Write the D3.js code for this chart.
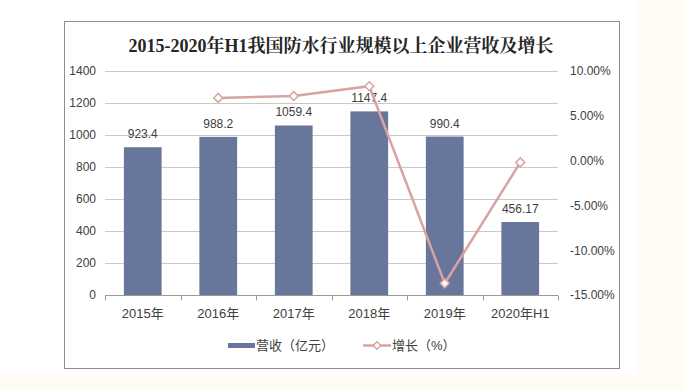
<!DOCTYPE html>
<html><head><meta charset="utf-8">
<script src="https://cdn.jsdelivr.net/npm/d3@7"></script>
<style>body{margin:0;background:#fff}svg{display:block}</style>
</head><body>
<svg id="c" width="685" height="390"></svg>
<script>
const categories = ["2015年","2016年","2017年","2018年","2019年","2020年H1"];
const revenue = [923.4, 988.2, 1059.4, 1147.4, 990.4, 456.17];
const revenueLabels = ["923.4","988.2","1059.4","1147.4","990.4","456.17"];
const growth = [null, 7.0, 7.2, 8.3, -13.7, -0.2];
const leftTicks = [0,200,400,600,800,1000,1200,1400];
const rightTicks = [-15,-10,-5,0,5,10];
const title = "2015-2020年H1我国防水行业规模以上企业营收及增长";
const legendNames = ["营收（亿元）","增长（%）"];

const svg = d3.select("#c");
const font = "'Liberation Sans', Arial, 'Noto Sans CJK SC', sans-serif";
// background regions
svg.append("rect").attr("x",0).attr("y",0).attr("width",685).attr("height",390).attr("fill","#fffcf6");
svg.append("rect").attr("x",0).attr("y",0).attr("width",637).attr("height",374).attr("fill","#ffffff");
svg.append("rect").attr("x",64.5).attr("y",21.5).attr("width",555).attr("height",347)
  .attr("fill","#fff").attr("stroke","#8c8c8c").attr("stroke-width",1);

svg.append("text").attr("x",341).attr("y",52).attr("text-anchor","middle")
  .attr("font-family","'Liberation Serif','Noto Serif CJK SC','Noto Sans CJK SC',serif")
  .attr("font-weight","bold").attr("font-size",18).attr("fill","#262626").text(title);

const x = d3.scaleBand().domain(categories).range([105,558]).paddingInner(0.5).paddingOuter(0.25);
const xb = d3.scaleBand().domain(categories).range([105,558]);
const yL = d3.scaleLinear().domain([0,1400]).range([295,71]);
const yR = d3.scaleLinear().domain([-15,10]).range([295,71]);

// grid
svg.append("g").selectAll("line").data(leftTicks.filter(d=>d>0)).join("line")
  .attr("x1",105).attr("x2",558).attr("y1",d=>Math.round(yL(d))+0.5).attr("y2",d=>Math.round(yL(d))+0.5)
  .attr("stroke","#c9c9c9").attr("stroke-width",1);

// left axis
const gl = svg.append("g").attr("transform","translate(105,0)")
  .call(d3.axisLeft(yL).tickValues(leftTicks).tickSize(0).tickPadding(9).tickFormat(d3.format("d")));
gl.select(".domain").remove();
gl.selectAll("text").attr("font-family",font).attr("font-size",12).attr("fill","#404040");

// right axis
const gr = svg.append("g").attr("transform","translate(558,0)")
  .call(d3.axisRight(yR).tickValues(rightTicks).tickSize(0).tickPadding(12).tickFormat(d=>d.toFixed(2)+"%"));
gr.select(".domain").remove();
gr.selectAll("text").attr("font-family",font).attr("font-size",12).attr("fill","#404040");

// bars
svg.append("g").selectAll("rect").data(revenue).join("rect")
  .attr("x",(d,i)=>x(categories[i])).attr("width",x.bandwidth())
  .attr("y",d=>yL(d)).attr("height",d=>yL(0)-yL(d)).attr("fill","#68769b");

// x axis
const gx = svg.append("g").attr("transform","translate(0,295.5)");
gx.append("line").attr("x1",105).attr("x2",558).attr("stroke","#9a9a9a");
gx.selectAll("line.t").data(d3.range(categories.length+1)).join("line").attr("class","t")
  .attr("x1",i=>Math.round(105+i*xb.step())+0.5).attr("x2",i=>Math.round(105+i*xb.step())+0.5)
  .attr("y1",0).attr("y2",5).attr("stroke","#9a9a9a");
gx.selectAll("text").data(categories).join("text")
  .attr("x",d=>xb(d)+xb.bandwidth()/2).attr("y",22).attr("text-anchor","middle")
  .attr("font-family",font).attr("font-size",13).attr("fill","#404040").text(d=>d);

// data labels
svg.append("g").selectAll("text").data(revenue).join("text")
  .attr("x",(d,i)=>x(categories[i])+x.bandwidth()/2).attr("y",d=>yL(d)-9)
  .attr("text-anchor","middle").attr("font-family",font).attr("font-size",12).attr("fill","#404040")
  .text((d,i)=>revenueLabels[i]);

// growth line
const pts = growth.map((g,i)=>({g,c:categories[i]})).filter(d=>d.g!==null);
const line = d3.line().x(d=>xb(d.c)+xb.bandwidth()/2).y(d=>yR(d.g));
svg.append("path").datum(pts).attr("d",line).attr("fill","none").attr("stroke","#d8a3a3").attr("stroke-width",2.5);
const sym = d3.symbol().type(d3.symbolDiamond2).size(60);
svg.append("g").selectAll("path").data(pts).join("path")
  .attr("transform",d=>`translate(${xb(d.c)+xb.bandwidth()/2},${yR(d.g)}) rotate(45)`)
  .attr("d",d3.symbol().type(d3.symbolSquare).size(40))
  .attr("fill","#fff").attr("stroke","#d8a3a3").attr("stroke-width",1.5);

// legend
const lg = svg.append("g");
lg.append("rect").attr("x",228).attr("y",343).attr("width",27).attr("height",5).attr("fill","#68769b");
lg.append("text").attr("x",256).attr("y",350).attr("font-family",font).attr("font-size",13).attr("fill","#404040").text(legendNames[0]);
lg.append("line").attr("x1",363).attr("x2",391).attr("y1",345.5).attr("y2",345.5).attr("stroke","#d8a3a3").attr("stroke-width",2.5);
lg.append("path").attr("transform","translate(377,345.5) rotate(45)").attr("d",d3.symbol().type(d3.symbolSquare).size(28))
  .attr("fill","#fff").attr("stroke","#d8a3a3").attr("stroke-width",1.5);
lg.append("text").attr("x",392).attr("y",350).attr("font-family",font).attr("font-size",13).attr("fill","#404040").text(legendNames[1]);
</script>
</body></html>
